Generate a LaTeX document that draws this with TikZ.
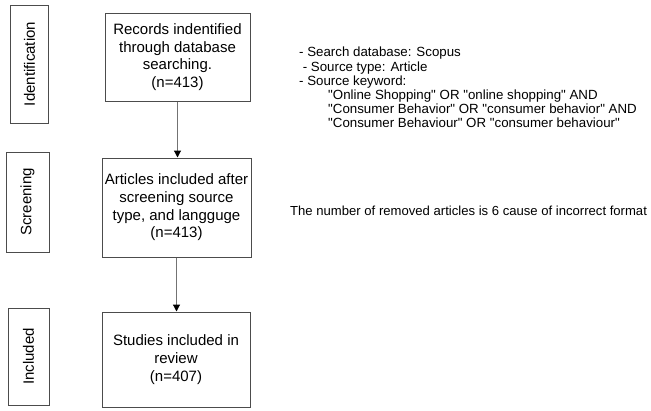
\documentclass[tikz,border=0pt]{standalone}
\usepackage{fontspec}
\setmainfont{Liberation Sans}
\usetikzlibrary{arrows.meta}
\newcommand{\qt}[1]{\textquotedbl#1\textquotedbl}

\begin{document}
\begin{tikzpicture}[x=1pt,y=-1pt,
	box/.style={draw=black!70,line width=1pt,align=center,inner sep=0pt,font=\fontsize{15}{17.7}\selectfont},
	phase/.style={draw=black!70,line width=1pt,inner sep=0pt,rotate=90,font=\fontsize{15}{18}\selectfont},
	flow/.style={draw=black!55,line width=1.2pt,-{Triangle[length=7pt,width=7pt,black]}},
	note/.style={inner sep=0pt,align=left,font=\fontsize{13.3}{14.2}\selectfont}]
			\useasboundingbox (0,0) rectangle (651,410);
			
			\node[phase,minimum width=118,minimum height=37.5] (ident)at(29.5,64) {Identification};
			\node[phase,minimum width=100,minimum height=43] (screen)at(27.5,202) {Screening};
			\node[phase,minimum width=97,minimum height=41] (incl)at(28.5,356.5) {Included};
			
			\node[box,minimum width=145,minimum height=88] (records)at(177.5,57) {Records indentified\\through database\\searching.\\(n=413)};
			\node[box,minimum width=149,minimum height=99] (articles)at(176.5,207.5) {Articles included after\\screening source\\type, and langguge\\(n=413)};
			\node[box,minimum width=148,minimum height=95] (studies)at(176,359.5) {Studies included in\\review\\(n=407)};
			
			\node[note,anchor=north west] (search)at(299,47) {- Search database: Scopus\\
				\hspace*{3.6pt}- Source type: Article\\
				- Source keyword:\\
				\hspace*{29pt}\qt{Online Shopping} OR \qt{online shopping} AND\\
				\hspace*{29pt}\qt{Consumer Behavior} OR \qt{consumer behavior} AND\\
				\hspace*{29pt}\qt{Consumer Behaviour} OR \qt{consumer behaviour}};
			\node[note,anchor=west,font=\fontsize{13.1}{15}\selectfont] (removed)at(290,211) {The number of removed articles is 6 cause of incorrect format};
			
			\draw[flow] (records.south) -- (records.south |- articles.north);
			\draw[flow] (articles.south) -- (articles.south |- studies.north);
		\end{tikzpicture}
\end{document}
